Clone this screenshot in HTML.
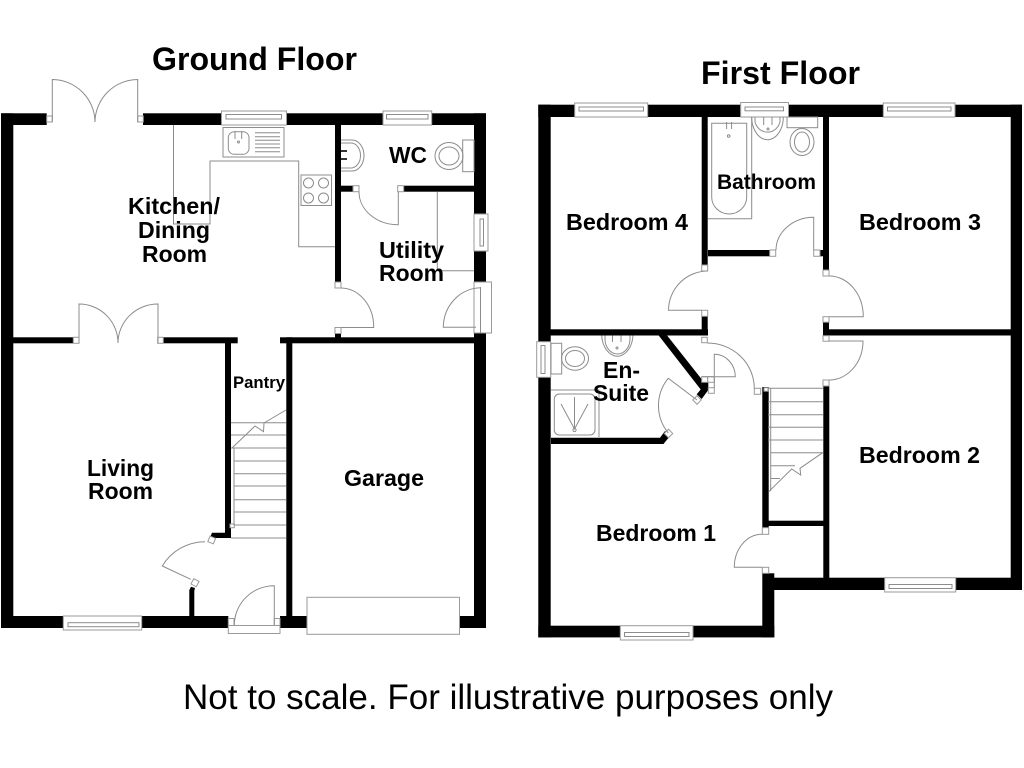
<!DOCTYPE html>
<html lang="en"><head><meta charset="utf-8"><title>Floor plan</title>
<style>
html,body{margin:0;padding:0;background:#fff}
svg{display:block}
.w{fill:#000;stroke:none}
.l{fill:none;stroke:#8c8c8c;stroke-width:1}
.f{fill:#fff;stroke:#9a9a9a;stroke-width:1}
text{font-family:"Liberation Sans",sans-serif;font-weight:700;fill:#000;font-size:23px}
</style></head><body>
<svg xmlns="http://www.w3.org/2000/svg" width="1024" height="768" viewBox="0 0 1024 768">
<rect width="1024" height="768" fill="#fff"/>

<!-- GROUND FLOOR WALLS -->
<g class="w">
<rect x="1" y="113.3" width="45.7" height="11.7"/>
<rect x="143" y="113.3" width="343" height="11.7"/>
<rect x="1" y="113.3" width="12.3" height="514.7"/>
<rect x="474" y="113.3" width="12" height="101"/>
<rect x="474" y="251" width="12" height="31"/>
<rect x="474" y="333" width="12" height="295"/>
<rect x="335" y="125" width="6" height="157"/>
<rect x="341" y="185.7" width="12" height="6"/>
<rect x="403.7" y="185.7" width="71" height="6"/>
<rect x="13" y="337.3" width="60.3" height="6"/>
<rect x="163.3" y="337.3" width="74.4" height="6"/>
<rect x="280" y="337.3" width="206" height="6"/>
<rect x="335" y="333" width="6" height="5"/>
<rect x="225" y="343" width="6" height="195"/>
<rect x="286.3" y="337.3" width="6" height="290.7"/>
<polygon points="212,532.7 226,532.7 231,532.7 231,538 215.7,538 210.3,536.7"/>
<polygon points="189.3,616 189.3,590 191,586.7 195,588 194.3,591 194.3,616"/>
<rect x="1" y="616" width="62.3" height="12"/>
<rect x="141.7" y="616" width="86.6" height="12"/>
<rect x="280" y="616" width="27" height="12"/>
<rect x="459.5" y="616" width="26.5" height="12"/>
</g>

<!-- GROUND FLOOR WINDOWS / FRAMES -->
<g>
<rect class="f" x="221.5" y="111" width="65" height="14"/><rect class="l" x="226" y="114.5" width="55.5" height="4.5"/>
<rect class="f" x="383" y="111" width="48.7" height="14"/><rect class="l" x="386.5" y="114.5" width="41.5" height="4.5"/>
<rect class="f" x="63.3" y="616" width="78.4" height="14"/><rect class="l" x="68" y="622.7" width="71" height="4"/>
<rect class="f" x="474" y="214" width="14" height="37"/><rect class="l" x="480" y="219" width="3.5" height="27"/>
<rect class="f" x="474" y="282" width="17.5" height="51"/>
<path class="l" d="M480.5 287V333"/>
<rect class="f" x="46.7" y="116" width="5.6" height="6"/>
<rect class="f" x="137.7" y="116" width="5.6" height="6"/>
<rect class="f" x="73.3" y="337.3" width="5.7" height="6"/>
<rect class="f" x="157.7" y="337.3" width="5.6" height="6"/>
<rect class="f" x="353" y="185.7" width="6" height="6"/>
<rect class="f" x="397.7" y="185.7" width="6" height="6"/>
<rect class="f" x="335" y="282" width="6" height="6"/>
<rect class="f" x="335" y="327.5" width="6" height="6"/>
<rect class="f" x="230" y="524" width="4.3" height="3.7"/>
<rect class="f" x="-3" y="-3" width="6" height="6" transform="translate(211.7 540) rotate(22)"/>
<rect class="f" x="-3" y="-3" width="6" height="6" transform="translate(195 582.7) rotate(28)"/>
<rect class="f" x="228.3" y="618.5" width="5.7" height="7"/>
<rect class="f" x="274.3" y="618.5" width="5.7" height="7"/>
<rect class="f" x="228.3" y="625.5" width="51.7" height="8"/>
<rect class="f" x="307" y="597.3" width="152.5" height="37"/>
</g>

<!-- GROUND FLOOR DOORS / FIXTURES -->
<g class="l">
<path d="M52.3 122V79.5A43 43 0 0 1 95 122A43 43 0 0 1 137.7 79.5V122"/>
<path d="M79 343V304A39 39 0 0 1 118 343A40 39 0 0 1 158 304V343"/>
<path d="M359 191.7A39 33 0 0 0 398.3 224.7V191.7"/>
<path d="M341 288A33 39 0 0 1 373.7 327.5H341"/>
<path d="M481 287.7A38 40 0 0 0 443.3 327.3H476"/>
<path d="M205 541.7A50 50 0 0 0 162.3 566L190.7 579.3"/>
<path d="M234.3 625A40 39.5 0 0 1 274.3 585.7V625"/>
<path d="M173.5 125V224H210V161H298.7V246.7H335"/>
<rect x="223" y="127.5" width="61" height="29.5"/>
<rect x="228.3" y="131.7" width="20.7" height="22.6" rx="6"/>
<path d="M235 131V139M241.7 131V139"/>
<circle cx="238.5" cy="142" r="1"/>
<path d="M255 132.7H280M255 136.7H280M255 140.3H280M255 144H280M255 147.7H280M255 151.7H280"/>
<rect x="301" y="175" width="30.5" height="30.5"/>
<circle cx="308.5" cy="183" r="5"/><circle cx="323.5" cy="183" r="5"/><circle cx="308.5" cy="198" r="5"/><circle cx="323.5" cy="198" r="5"/>
<path d="M341 140H352A12 15.5 0 0 1 352 171H341"/>
<path d="M341 143H351A9.5 12.5 0 0 1 351 168H341"/>
<rect x="462.7" y="140" width="11.3" height="31.7"/>
<ellipse cx="449" cy="156" rx="14" ry="13.5"/><ellipse cx="449" cy="156" rx="10" ry="9"/>
<path d="M437.3 192V270.7H474"/>
<path d="M231 422.7H286M231 435H286M231 448H286M234 461H286M234 473.7H286M234 486H286M234 499.7H286M234 512H286M234 525H286M231 538H286"/>
<path d="M234 448V525"/>
<path d="M232 448L255 426L263.5 431.6L264 423L286 410"/>
</g>
<rect x="341" y="150" width="6" height="2" fill="#333"/><rect x="341" y="158" width="6" height="2" fill="#333"/>

<!-- FIRST FLOOR WALLS -->
<g class="w">
<rect x="538.3" y="104.7" width="36.4" height="12.3"/>
<rect x="647.7" y="104.7" width="92.6" height="12.3"/>
<rect x="788.5" y="104.7" width="94.8" height="12.3"/>
<rect x="955" y="104.7" width="67" height="12.3"/>
<rect x="538.3" y="104.7" width="12.4" height="237"/>
<rect x="538.3" y="377.3" width="12.4" height="260"/>
<rect x="1010.7" y="104.7" width="11.3" height="485.3"/>
<rect x="701.7" y="117" width="6" height="148"/>
<rect x="701.7" y="316" width="6" height="19.5"/>
<rect x="550" y="329.3" width="158" height="6.2"/>
<rect x="708" y="250" width="62" height="6.3"/>
<rect x="820" y="250" width="3.5" height="6.3"/>
<rect x="823" y="117" width="6" height="153"/>
<rect x="823" y="322" width="6" height="13.5"/>
<rect x="823" y="329.3" width="188" height="6.2"/>
<rect x="823.3" y="386" width="6" height="192"/>
<rect x="762.3" y="387" width="6.4" height="141"/>
<rect x="768" y="520.7" width="56" height="5.3"/>
<rect x="762.3" y="573.3" width="12" height="64"/>
<rect x="774" y="577.7" width="110.7" height="12.3"/>
<rect x="955.7" y="577.7" width="66.3" height="12.3"/>
<rect x="538.3" y="625.7" width="82" height="11.7"/>
<rect x="693" y="625.7" width="81.3" height="11.7"/>
<polygon points="551,437.7 660,437.7 665,431 670,436 663.5,444 551,444"/>
<polygon points="658.3,335 666.7,335 702.3,380 702.3,382.3 708.3,382.3 708.3,390 701.7,399 696.7,394.3 700.7,389.5"/>
</g>

<!-- FIRST FLOOR WINDOWS / FRAMES -->
<g>
<rect class="f" x="574.7" y="103" width="73" height="14"/><rect class="l" x="579" y="107" width="64.5" height="4"/>
<rect class="f" x="740.7" y="102.5" width="47.8" height="14.5"/><rect class="l" x="745" y="107" width="38.5" height="3.8"/>
<rect class="f" x="883.3" y="103" width="71.7" height="14"/><rect class="l" x="887.5" y="107" width="63.5" height="4"/>
<rect class="f" x="884.7" y="577.7" width="71" height="14.3"/><rect class="l" x="889" y="584.5" width="63" height="4"/>
<rect class="f" x="620.3" y="625.7" width="72.7" height="14.3"/><rect class="l" x="624.5" y="632.5" width="64.5" height="4"/>
<rect class="f" x="536.7" y="341.7" width="14" height="35.6"/><rect class="l" x="541" y="345.5" width="4" height="28"/>
<rect class="f" x="701.7" y="265" width="6" height="6"/>
<rect class="f" x="701.7" y="310.3" width="6" height="6"/>
<rect class="f" x="769.7" y="250" width="6" height="6.3"/>
<rect class="f" x="813.7" y="250" width="6.3" height="6.3"/>
<rect class="f" x="823" y="270" width="6" height="6"/>
<rect class="f" x="823" y="316.7" width="6" height="5.5"/>
<rect class="f" x="823" y="335.7" width="6" height="5.5"/>
<rect class="f" x="823" y="380" width="6" height="6"/>
<rect class="f" x="701.7" y="337.3" width="5.6" height="5.4"/>
<rect class="f" x="701.7" y="376.7" width="6" height="5.6"/>
<rect class="f" x="707.7" y="376.7" width="6.6" height="5.6"/>
<rect class="f" x="708.3" y="387.7" width="6" height="5.6"/>
<rect class="f" x="754.3" y="388.3" width="6.4" height="6"/>
<rect class="f" x="762.3" y="527.7" width="6.4" height="6.6"/>
<rect class="f" x="762.3" y="567.3" width="6.4" height="6"/>
<rect class="f" x="764" y="387.7" width="4" height="3.5" stroke-width=".7"/>
<rect class="f" x="-3" y="-3" width="6" height="6" transform="translate(697 400) rotate(45)"/>
<rect class="f" x="-3" y="-3" width="6" height="6" transform="translate(668.5 433.5) rotate(45)"/>
</g>

<!-- FIRST FLOOR DOORS / FIXTURES -->
<g class="l">
<path d="M708 271A39.5 39.5 0 0 0 668.5 310.3H702"/>
<path d="M776 250A38 33 0 0 1 813.7 217.3V250"/>
<path d="M829 276A34 40.7 0 0 1 863.3 316.7H829"/>
<path d="M829 341H863A34 39 0 0 1 829 380"/>
<path d="M707.3 343A47 45.3 0 0 1 754.3 388.3"/>
<path d="M714.3 388V354.3A21 22.4 0 0 1 735.3 376.7H701.7"/>
<path d="M697 400L668.3 378.3A43 43 0 0 0 668.3 433"/>
<path d="M762 534.3A27.7 33 0 0 0 734.3 567.3H762"/>
<path d="M708 218.7H751.7V117"/>
<path d="M711.7 123.3H746.7V197A17.5 17 0 0 1 711.7 197Z"/>
<path d="M726.6 122V129M731.6 122V129"/>
<circle cx="728.7" cy="136" r="1.3"/>
<path d="M751.7 117A15.8 22.7 0 0 0 783.3 117"/>
<path d="M755 117V122A13 14 0 0 0 780 122V117"/>
<path d="M763.7 117V125M772 117V125"/>
<circle cx="768" cy="129" r="1"/>
<rect x="787" y="117" width="30.7" height="10.7"/>
<ellipse cx="802" cy="142" rx="12" ry="13.5"/><ellipse cx="802" cy="142" rx="7.5" ry="10"/>
<rect x="551" y="343.3" width="10.7" height="30.7"/>
<ellipse cx="575" cy="358.5" rx="13.5" ry="11.7"/><ellipse cx="575" cy="358.5" rx="9.5" ry="8"/>
<path d="M601.7 335.5A15.7 22.5 0 0 0 633 335.5"/>
<path d="M605 335.5V339A12.5 15 0 0 0 630 339V335.5"/>
<path d="M612.5 335.5V342M621 335.5V342"/>
<circle cx="617" cy="348" r="1"/>
<path d="M551 390H599V437"/>
<rect x="554.3" y="394" width="40.7" height="41" rx="5"/>
<path d="M574.5 397V429M561 404L574.5 429L588 404"/>
<circle cx="574.5" cy="430" r="1.6"/>
<path d="M768 401.7H823M768 414.7H823M768 427.3H823M768 440H823M771 452.7H823M771 465.7H795M771 478.5H780"/>
<path d="M768 388.3H823"/>
<path d="M770.7 388.3V491"/>
<path d="M768.7 491.7L791.7 469L800.7 475L800 468.3L822.7 452.7"/>
</g>

<!-- LABELS -->
<text x="152" y="70" style="font-size:32px" textLength="205" lengthAdjust="spacingAndGlyphs">Ground Floor</text>
<text x="701" y="84" style="font-size:32px" textLength="159" lengthAdjust="spacingAndGlyphs">First Floor</text>
<text x="128" y="214" textLength="92" lengthAdjust="spacingAndGlyphs">Kitchen/</text>
<text x="138" y="238" textLength="72" lengthAdjust="spacingAndGlyphs">Dining</text>
<text x="142" y="262" textLength="65" lengthAdjust="spacingAndGlyphs">Room</text>
<text x="389" y="163" textLength="38" lengthAdjust="spacingAndGlyphs">WC</text>
<text x="379" y="258" textLength="65" lengthAdjust="spacingAndGlyphs">Utility</text>
<text x="379" y="281" textLength="65" lengthAdjust="spacingAndGlyphs">Room</text>
<text x="233" y="388" style="font-size:17px" textLength="52" lengthAdjust="spacingAndGlyphs">Pantry</text>
<text x="87" y="476" textLength="67" lengthAdjust="spacingAndGlyphs">Living</text>
<text x="88" y="499" textLength="65" lengthAdjust="spacingAndGlyphs">Room</text>
<text x="344" y="486" textLength="80" lengthAdjust="spacingAndGlyphs">Garage</text>
<text x="566" y="230" textLength="122" lengthAdjust="spacingAndGlyphs">Bedroom 4</text>
<text x="717" y="189" style="font-size:21px" textLength="99" lengthAdjust="spacingAndGlyphs">Bathroom</text>
<text x="859" y="230" textLength="122" lengthAdjust="spacingAndGlyphs">Bedroom 3</text>
<text x="859" y="463" textLength="121" lengthAdjust="spacingAndGlyphs">Bedroom 2</text>
<text x="596" y="541" textLength="120" lengthAdjust="spacingAndGlyphs">Bedroom 1</text>
<text x="603" y="378" textLength="37" lengthAdjust="spacingAndGlyphs">En-</text>
<text x="593" y="401" textLength="56" lengthAdjust="spacingAndGlyphs">Suite</text>
<text x="183" y="709" style="font-size:35px;font-weight:400" textLength="650" lengthAdjust="spacingAndGlyphs">Not to scale. For illustrative purposes only</text>
</svg>
</body></html>
